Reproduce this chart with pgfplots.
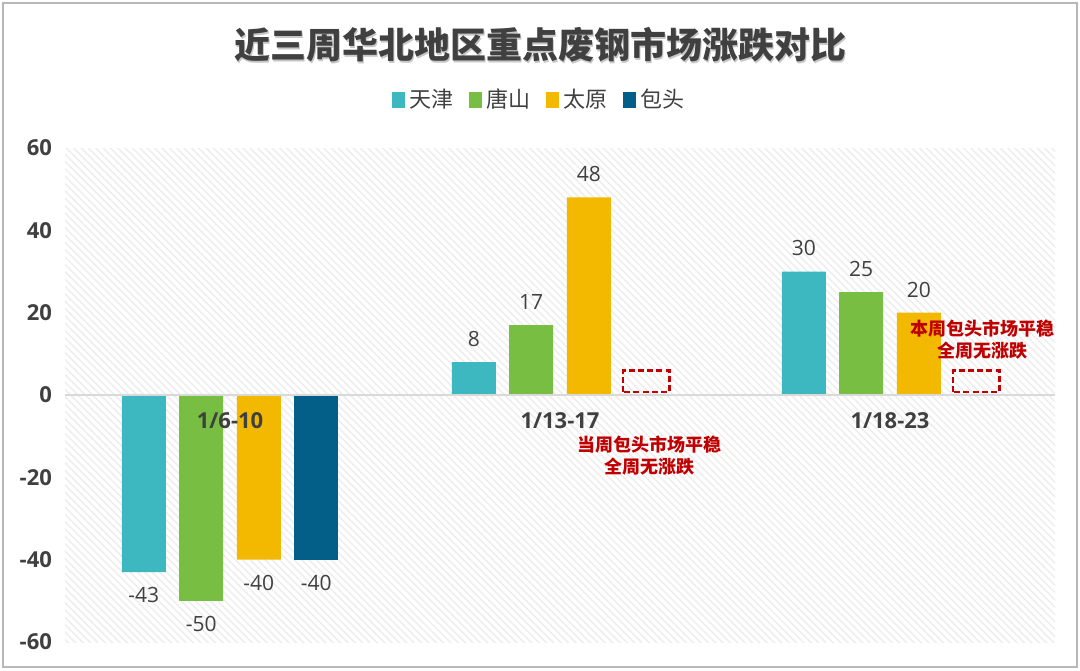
\documentclass[border=0pt]{standalone}
\usepackage{fontspec}
\setmainfont{Open Sans}
\newfontfamily\cjk{Noto Sans CJK SC}
\usepackage{pgfplots}
\pgfplotsset{compat=1.18}
\usetikzlibrary{patterns.meta}
\definecolor{tj}{HTML}{3DB8C0}
\definecolor{ts}{HTML}{78BE43}
\definecolor{ty}{HTML}{F2B900}
\definecolor{bt}{HTML}{035F87}
\definecolor{annred}{HTML}{C00000}
\definecolor{txt}{HTML}{404040}
\begin{document}
\begin{tikzpicture}[x=1pt,y=1pt]
\useasboundingbox (0,0) rectangle (540,335);
\fill[white] (0,0) rectangle (540,335);
\draw[color=black!28, line width=1pt] (1.5,1.5) rectangle (538.5,333.5);
\node[font=\cjk\bfseries\fontsize{18}{20}\selectfont, text=black!22] at (270.8,311.7) {近三周华北地区重点废钢市场涨跌对比};
\node[font=\cjk\bfseries\fontsize{18}{20}\selectfont, text=txt] at (270,312.5) {近三周华北地区重点废钢市场涨跌对比};
\begin{axis}[
  scale only axis, width=495pt, height=247pt,
  at={(32.5pt,14pt)}, anchor=south west,
  xmin=-0.5, xmax=2.5, ymin=-60, ymax=60,
  ytick={-60,-40,...,60},
  xtick={0,1,2}, xticklabels={1/6-10,1/13-17,1/18-23},
  axis x line=middle, axis y line=left,
  axis on top,
  axis line style={-},
  x axis line style={draw=black!15, line width=0.8pt},
  y axis line style={draw=none},
  major tick length=0pt,
  /pgf/number format/assume math mode=true,
  yticklabel style={font=\bfseries\fontsize{11}{13}\selectfont, text=txt, xshift=-3pt},
  xticklabel style={font=\bfseries\fontsize{11}{13}\selectfont, text=txt, yshift=-5pt},
  axis background/.style={pattern={Lines[angle=-45,distance=2.6pt,line width=0.7pt]}, pattern color=black!7},
  ybar, bar width=22pt,
  every node near coord/.append style={font=\fontsize{10.5}{12}\selectfont, text=txt, inner ysep=7.5pt},
  legend columns=4,
  legend style={at={(0.48,1.097)}, anchor=center, draw=none, fill=none,
    font=\cjk\fontsize{11}{13}\selectfont, text=txt,
    /tikz/every even column/.append style={column sep=6pt}},
  legend image code/.code={\fill[#1] (0pt,-4pt) rectangle (6.5pt,4pt);},
  clip=false,
]
\addplot[fill=tj, draw=none, bar shift=-43.1pt, nodes near coords] coordinates {(0,-43) (1,8) (2,30)};
\addlegendentry{天津}
\addplot[fill=ts, draw=none, bar shift=-14.4pt, nodes near coords] coordinates {(0,-50) (1,17) (2,25)};
\addlegendentry{唐山}
\addplot[fill=ty, draw=none, bar shift=14.4pt, nodes near coords] coordinates {(0,-40) (1,48) (2,20)};
\addlegendentry{太原}
\addplot[fill=bt, draw=none, bar shift=43.1pt, nodes near coords] coordinates {(0,-40)};
\addlegendentry{包头}
\draw[annred, line width=1.3pt, dash pattern=on 3pt off 1.6pt] (axis cs:1.191,0.7) rectangle (axis cs:1.331,6);
\draw[annred, line width=1.3pt, dash pattern=on 3pt off 1.6pt] (axis cs:2.191,0.7) rectangle (axis cs:2.331,6);
\node[font=\cjk\bfseries\fontsize{9}{11}\selectfont, text=annred, align=center] at (axis cs:1.27,-14.8) {当周包头市场平稳\\全周无涨跌};
\node[font=\cjk\bfseries\fontsize{9}{11}\selectfont, text=annred, align=center] at (axis cs:2.28,13.4) {本周包头市场平稳\\全周无涨跌};
\end{axis}
\end{tikzpicture}
\end{document}
